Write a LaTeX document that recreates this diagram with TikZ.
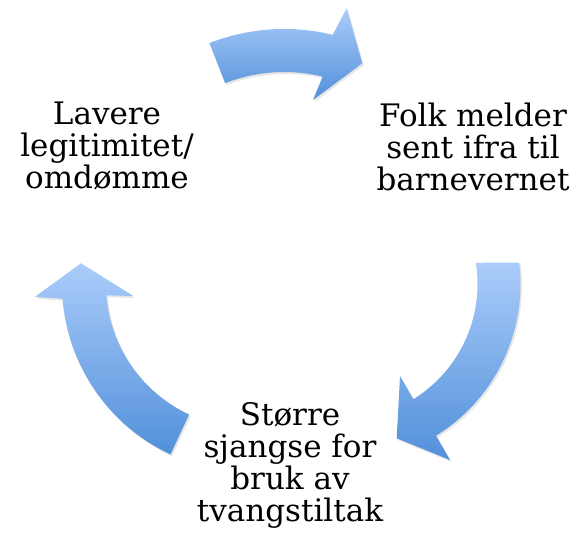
\documentclass[tikz,border=0pt]{standalone}
\usepackage{xcolor}
\usepackage{fontspec}
\setmainfont{DejaVu Serif}
\usepackage{tikz}
\usetikzlibrary{shadows}
\definecolor{arrowtop}{RGB}{170,204,250}
\definecolor{arrowbottom}{RGB}{82,144,218}
\tikzset{blockarrow/.style={top color=arrowtop, bottom color=arrowbottom, draw=none,
    drop shadow={opacity=0.2, shadow xshift=1.5pt, shadow yshift=-2pt}}}

\begin{document}
\begin{tikzpicture}[x=1pt, y=1pt]
\useasboundingbox (0,0) rectangle (577,550);
\begin{scope}[every node/.style={align=center, inner sep=0pt, anchor=north, font=\fontsize{31}{32}\selectfont}]
    \node (1) at (107,448) {Lavere\\legitimitet/\\omdømme};
    \node (2) at (473,447.5) {Folk melder\\sent ifra til\\barnevernet};
    \node (3) at (290,148) {Større\\sjangse for\\bruk av\\tvangstiltak};
\end{scope}

% 1 -> 2
\path[blockarrow] (209.4,506.9) arc[start angle=111.4, end angle=76.3, radius=205]
    -- (346.7,541.7) -- (362.3,486.7) -- (313,450)
    -- (322.6,473.4) arc[start angle=76.3, end angle=111.4, radius=162] -- cycle;
% 2 -> 3
\path[blockarrow] (519.2,287.3) arc[start angle=6.85, end angle=-58.2, radius=178.5]
    -- (450,90) -- (396.7,111.7) -- (400,174)
    -- (413.4,150.8) arc[start angle=-58.2, end angle=9.04, radius=135.5] -- cycle;
% 3 -> 1
\path[blockarrow] (170.5,95.6) arc[start angle=245, end angle=184.5, radius=188]
    -- (35,253.3) -- (81,286.7) -- (133.3,254)
    -- (106.4,254.7) arc[start angle=184.5, end angle=245, radius=144] -- cycle;
\end{tikzpicture}
\end{document}
